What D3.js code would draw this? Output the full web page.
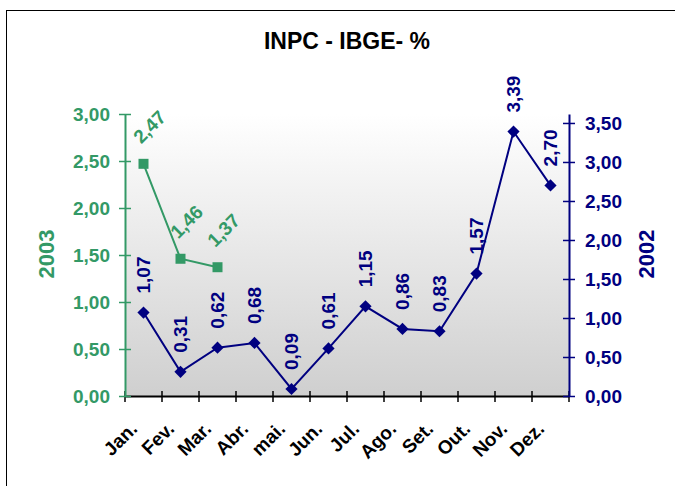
<!DOCTYPE html>
<html>
<head>
<meta charset="utf-8">
<script src="https://cdn.jsdelivr.net/npm/d3@7"></script>
<style>
  body { margin: 0; background: #fff; }
  svg { display: block; font-family: Arial, "Liberation Sans", sans-serif; font-weight: bold; }
</style>
</head>
<body>
<div class="container"></div>
<script>
// chart data
const months = ["Jan.", "Fev.", "Mar.", "Abr.", "mai.", "Jun.", "Jul.", "Ago.", "Set.", "Out.", "Nov.", "Dez."];
const values2003 = [2.47, 1.46, 1.37];
const values2002 = [1.07, 0.31, 0.62, 0.68, 0.09, 0.61, 1.15, 0.86, 0.83, 1.57, 3.39, 2.70];
const leftTicks = [0, 0.5, 1, 1.5, 2, 2.5, 3];
const rightTicks = [0, 0.5, 1, 1.5, 2, 2.5, 3, 3.5];

const green = "#339966";
const navy = "#000080";

const width = 675;
const height = 486;
const plot = { left: 125, right: 569, top: 114, bottom: 396 };

const ptBR = d3.formatLocale({ decimal: ",", thousands: ".", grouping: [3], currency: ["R$", ""] });
const fmt = ptBR.format(".2f");

const svg = d3.select(".container")
  .append("svg")
  .attr("width", width)
  .attr("height", height);

// outer frame
svg.append("rect")
  .attr("x", 6.5).attr("y", 10.5)
  .attr("width", 800).attr("height", 600)
  .attr("fill", "none")
  .attr("stroke", "#000")
  .attr("stroke-width", 1);

// plot background gradient
const grad = svg.append("defs").append("linearGradient")
  .attr("id", "bg").attr("x1", 0).attr("y1", 0).attr("x2", 0).attr("y2", 1);
grad.append("stop").attr("offset", "0%").attr("stop-color", "#ffffff");
grad.append("stop").attr("offset", "100%").attr("stop-color", "#cfcfcf");

svg.append("rect")
  .attr("x", plot.left).attr("y", plot.top)
  .attr("width", plot.right - plot.left)
  .attr("height", plot.bottom - plot.top)
  .attr("fill", "url(#bg)");

const x = d3.scaleBand().domain(months).range([plot.left, plot.right]);
const yLeft = d3.scaleLinear().domain([0, 3]).range([plot.bottom, plot.top]);
const yRight = d3.scaleLinear().domain([0, 3.615]).range([plot.bottom, plot.top]);
const cx = (m) => x(m) + x.bandwidth() / 2;

// title
svg.append("text")
  .attr("x", 347).attr("y", 49)
  .attr("text-anchor", "middle")
  .style("font-size", "23px")
  .text("INPC - IBGE- %");

// x axis
const xAxis = svg.append("g")
  .attr("transform", `translate(0, ${plot.bottom})`)
  .call(d3.axisBottom(x).tickSize(0).tickFormat(""));
xAxis.select(".domain").attr("stroke", "#000").attr("stroke-width", 2);
const xTicks = [plot.left].concat(months.map((m) => x(m) + x.bandwidth()));
xAxis.selectAll(".xt")
  .data(xTicks)
  .enter()
  .append("line")
  .attr("x1", (d) => d).attr("x2", (d) => d)
  .attr("y1", -5).attr("y2", 6)
  .attr("stroke", "#000").attr("stroke-width", 1.5);

svg.append("g")
  .selectAll("text")
  .data(months)
  .enter()
  .append("text")
  .attr("transform", (d) => `translate(${cx(d) - 5}, ${plot.bottom + 34}) rotate(-45)`)
  .attr("text-anchor", "end")
  .style("font-size", "19px")
  .attr("fill", "#000")
  .text((d) => d);

// left axis (2003)
const leftAxis = svg.append("g")
  .attr("transform", `translate(${plot.left}, 0)`)
  .call(d3.axisLeft(yLeft).tickValues(leftTicks).tickFormat(fmt).tickSizeOuter(0).tickSizeInner(6).tickPadding(9));
leftAxis.select(".domain").attr("stroke", green).attr("stroke-width", 2);
leftAxis.selectAll(".tick line").attr("x1", 6).attr("stroke", green).attr("stroke-width", 1.5);
leftAxis.selectAll(".tick text")
  .attr("fill", green)
  .style("font-size", "19px")
  .style("font-family", "Arial, 'Liberation Sans', sans-serif")
  .style("font-weight", "bold");

// right axis (2002)
const rightAxis = svg.append("g")
  .attr("transform", `translate(${plot.right}, 0)`)
  .call(d3.axisRight(yRight).tickValues(rightTicks).tickFormat(fmt).tickSizeOuter(0).tickSizeInner(6).tickPadding(10));
rightAxis.select(".domain").attr("stroke", navy).attr("stroke-width", 2);
rightAxis.selectAll(".tick line").attr("x1", -6).attr("stroke", navy).attr("stroke-width", 1.5);
rightAxis.selectAll(".tick text")
  .attr("fill", navy)
  .style("font-size", "19px")
  .style("font-family", "Arial, 'Liberation Sans', sans-serif")
  .style("font-weight", "bold");

// axis titles
svg.append("text")
  .attr("transform", `translate(46, 254) rotate(-90)`)
  .attr("text-anchor", "middle")
  .attr("dy", "0.35em")
  .attr("fill", green)
  .style("font-size", "22px")
  .text("2003");

svg.append("text")
  .attr("transform", `translate(646, 254) rotate(-90)`)
  .attr("text-anchor", "middle")
  .attr("dy", "0.35em")
  .attr("fill", navy)
  .style("font-size", "22px")
  .text("2002");

// 2002 series (right axis)
const s2002 = values2002.map((v, i) => ({ m: months[i], v }));
svg.append("path")
  .datum(s2002)
  .attr("fill", "none")
  .attr("stroke", navy)
  .attr("stroke-width", 2)
  .attr("d", d3.line().x((d) => cx(d.m)).y((d) => yRight(d.v)));

svg.append("g")
  .selectAll("path")
  .data(s2002)
  .enter()
  .append("path")
  .attr("d", d3.symbol().type(d3.symbolDiamond2).size(95))
  .attr("transform", (d) => `translate(${cx(d.m)}, ${yRight(d.v)})`)
  .attr("fill", navy);

svg.append("g")
  .selectAll("text")
  .data(s2002)
  .enter()
  .append("text")
  .attr("transform", (d) => `translate(${cx(d.m)}, ${yRight(d.v) - 19}) rotate(-90)`)
  .attr("dy", "0.35em")
  .attr("fill", navy)
  .style("font-size", "19px")
  .text((d) => fmt(d.v));

// 2003 series (left axis)
const s2003 = values2003.map((v, i) => ({ m: months[i], v }));
svg.append("path")
  .datum(s2003)
  .attr("fill", "none")
  .attr("stroke", green)
  .attr("stroke-width", 2)
  .attr("d", d3.line().x((d) => cx(d.m)).y((d) => yLeft(d.v)));

svg.append("g")
  .selectAll("rect")
  .data(s2003)
  .enter()
  .append("rect")
  .attr("x", (d) => cx(d.m) - 5)
  .attr("y", (d) => yLeft(d.v) - 5)
  .attr("width", 10).attr("height", 10)
  .attr("fill", green);

svg.append("g")
  .selectAll("text")
  .data(s2003)
  .enter()
  .append("text")
  .attr("transform", (d) => `translate(${cx(d.m) + 6}, ${yLeft(d.v) - 37}) rotate(-45)`)
  .attr("text-anchor", "middle")
  .attr("dy", "0.35em")
  .attr("fill", green)
  .style("font-size", "19px")
  .text((d) => fmt(d.v));
</script>
</body>
</html>
